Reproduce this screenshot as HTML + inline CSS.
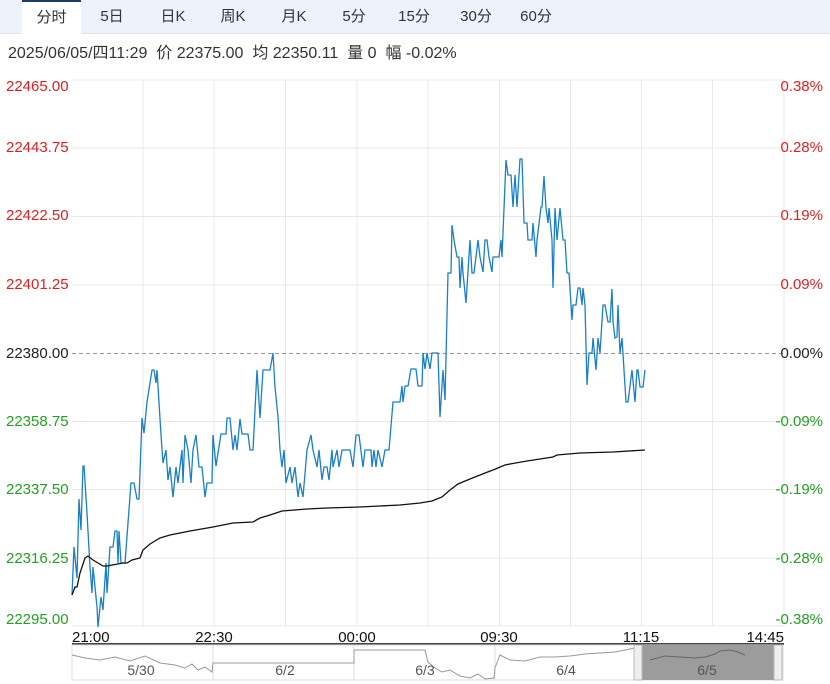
<!DOCTYPE html>
<html><head><meta charset="utf-8"><style>
body{margin:0;width:830px;height:684px;overflow:hidden;background:#fff;font-family:"Liberation Sans","Noto Sans CJK SC",sans-serif;}
.tabs{position:absolute;left:0;top:0;width:830px;height:33px;background:#eef3fb;border-bottom:1px solid #dde4ee;}
.tab{position:absolute;top:0;height:33px;line-height:33px;font-size:15px;color:#333;text-align:center;}
.act{background:#fff;border-top:2px solid #1d3b6b;height:32px;line-height:31px;}
.info{position:absolute;left:8px;top:39px;font-size:16px;color:#333;white-space:nowrap;}
</style></head><body>
<div class="tabs">
<div class="tab act" style="left:22px;width:59px">分时</div>
<div class="tab" style="left:92px;width:40px">5日</div>
<div class="tab" style="left:153px;width:40px">日K</div>
<div class="tab" style="left:213px;width:40px">周K</div>
<div class="tab" style="left:274px;width:40px">月K</div>
<div class="tab" style="left:334px;width:40px">5分</div>
<div class="tab" style="left:394px;width:40px">15分</div>
<div class="tab" style="left:456px;width:40px">30分</div>
<div class="tab" style="left:516px;width:40px">60分</div>
</div>
<div class="info">2025/06/05/四11:29&nbsp; 价 22375.00&nbsp; 均 22350.11&nbsp; 量 0&nbsp; 幅 -0.02%</div>
<svg width="830" height="684" style="position:absolute;left:0;top:0" font-family="Liberation Sans, sans-serif" font-size="15">
<g stroke="#e8e8e8" stroke-width="1">
<line x1="72" y1="80" x2="784" y2="80"/><line x1="72" y1="148" x2="784" y2="148"/><line x1="72" y1="216.5" x2="784" y2="216.5"/><line x1="72" y1="285" x2="784" y2="285"/>
<line x1="72" y1="421.5" x2="784" y2="421.5"/><line x1="72" y1="489.5" x2="784" y2="489.5"/><line x1="72" y1="558" x2="784" y2="558"/><line x1="72" y1="626" x2="784" y2="626"/>
<line x1="143" y1="80" x2="143" y2="626"/><line x1="214" y1="80" x2="214" y2="626"/><line x1="285.5" y1="80" x2="285.5" y2="626"/><line x1="357" y1="80" x2="357" y2="626"/><line x1="428" y1="80" x2="428" y2="626"/><line x1="499.5" y1="80" x2="499.5" y2="626"/><line x1="570.5" y1="80" x2="570.5" y2="626"/><line x1="641.5" y1="80" x2="641.5" y2="626"/><line x1="712.5" y1="80" x2="712.5" y2="626"/><line x1="784" y1="80" x2="784" y2="626"/>
</g>
<line x1="72" y1="353.5" x2="784" y2="353.5" stroke="#999" stroke-dasharray="4,3"/>
<g fill="#e02020"><text x="6" y="91">22465.00</text><text x="6" y="152">22443.75</text><text x="6" y="220">22422.50</text><text x="6" y="289">22401.25</text></g>
<text x="6" y="358" fill="#222">22380.00</text>
<g fill="#22a022"><text x="6" y="426">22358.75</text><text x="6" y="494">22337.50</text><text x="6" y="563">22316.25</text><text x="6" y="624">22295.00</text></g>
<g fill="#e02020" text-anchor="end"><text x="823" y="91">0.38%</text><text x="823" y="152">0.28%</text><text x="823" y="220">0.19%</text><text x="823" y="289">0.09%</text></g>
<text x="823" y="358" fill="#222" text-anchor="end">0.00%</text>
<g fill="#22a022" text-anchor="end"><text x="823" y="426">-0.09%</text><text x="823" y="494">-0.19%</text><text x="823" y="563">-0.28%</text><text x="823" y="624">-0.38%</text></g>
<polyline fill="none" stroke="#1a7fc8" stroke-width="1.3" points="72,595 74,547 77,578 79,499 81,530 83,466 84,466 87,513 90,567 92,593 93,567 97,607 98,627 101,597 103,610 106,563 107,593 110,547 113,547 115,531 117,531 118,563 119,531 121,563 125,563 131,483 134,483 137,499 139,499 142,418 144,433 147,402 152,370 154,370 156,383 157,370 161,435 163,463 166,450 168,480 170,467 173,497 176,467 178,483 182,450 183,483 185,435 188,450 191,483 193,450 196,435 199,467 202,467 205,497 207,483 212,483 213,435 216,466 221,434 226,434 227,418 230,418 233,450 235,435 237,450 240,419 242,434 248,434 250,450 253,450 257,370 260,418 263,370 270,370 273,353 275,387 278,417 280,450 282,467 284,450 286,483 290,467 292,483 295,467 298,497 300,483 303,497 307,450 311,435 313,450 317,467 319,450 322,480 324,467 327,467 329,480 332,450 333,467 337,450 339,467 342,450 350,450 353,467 356,435 359,435 363,467 365,450 371,450 372,467 374,450 376,467 378,450 382,467 385,450 389,450 393,402 400,402 402,386 403,402 405,386 408,386 411,369 416,369 418,386 422,386 423,353 425,369 427,353 430,369 432,353 438,353 440,417 443,370 445,400 448,273 451,273 452,225 454,240 457,257 459,257 460,288 462,257 463,273 466,303 470,240 472,273 474,273 476,257 478,240 480,257 483,272 485,240 487,240 489,257 492,272 493,257 499,257 501,240 502,257 506,160 508,175 511,175 513,207 515,175 517,207 520,159 522,159 524,223 527,223 528,240 532,240 533,223 536,257 537,240 541,207 542,207 544,176 546,208 548,223 549,208 552,240 553,288 555,208 557,240 560,208 563,240 565,240 567,273 569,273 572,320 573,305 576,305 578,288 580,288 582,305 583,288 585,305 587,385 589,353 592,353 593,338 596,370 598,338 600,353 603,305 605,305 608,322 610,322 612,289 613,322 615,338 617,337 618,305 620,353 622,338 626,402 628,402 632,370 635,402 637,370 638,370 640,387 643,387 645,370"/>
<polyline fill="none" stroke="#111" stroke-width="1.3" points="72,595 75,587 77,587 80,573 85,558 88,556 93,560 103,566 107,566 123,563 127,563 132,560 140,558 143,550 150,544 160,538 170,535 190,531 213,527 233,523 253,522 260,518 270,515 282,511 307,509 327,508 360,507 400,505 420,503 432,501 442,497 450,490 458,484 470,479 485,473 493,470 505,465 510,464 527,461 553,457 557,455 580,453 613,452 645,450"/>
<g fill="#111" font-size="15"><text x="72" y="642">21:00</text><text x="214" y="642" text-anchor="middle">22:30</text><text x="357" y="642" text-anchor="middle">00:00</text><text x="499" y="642" text-anchor="middle">09:30</text><text x="641" y="642" text-anchor="middle">11:15</text><text x="784" y="642" text-anchor="end">14:45</text></g>
<line x1="72" y1="644" x2="784" y2="644" stroke="#444" stroke-width="2"/>
<rect x="72" y="645" width="711" height="35" fill="none" stroke="#ddd"/>
<rect x="642" y="645" width="132" height="35" fill="#9c9c9c"/>
<rect x="634" y="645" width="8" height="35" fill="#eee" stroke="#bbb"/>
<rect x="774" y="645" width="8" height="35" fill="#eee" stroke="#bbb"/>
<g stroke="#ddd"><line x1="213" y1="645" x2="213" y2="680"/><line x1="354" y1="645" x2="354" y2="680"/><line x1="495" y1="645" x2="495" y2="680"/></g>
<g fill="none" stroke="#999" stroke-width="1">
<polyline points="72,655 85,658 100,660 115,657 130,661 145,656 160,663 175,665 185,668 192,664 198,670 205,667 212,672 213,663 260,663 354,663 354,650 425,650 428,662 435,668 442,672 450,670 460,676 470,678 478,674 485,679 494,678 495,668 500,655 510,660 525,661 540,657 555,657 570,656 585,654 600,653 615,652 630,649 634,648"/>
</g>
<polyline fill="none" stroke="#666" stroke-width="1" points="650,660 665,656 680,657 695,658 705,657 715,654 720,651 730,650 738,652 745,655"/>
<g fill="#555" font-size="14" text-anchor="middle"><text x="141" y="675">5/30</text><text x="285" y="675">6/2</text><text x="425" y="675">6/3</text><text x="566" y="675">6/4</text><text x="707" y="675">6/5</text></g>
</svg>
</body></html>
